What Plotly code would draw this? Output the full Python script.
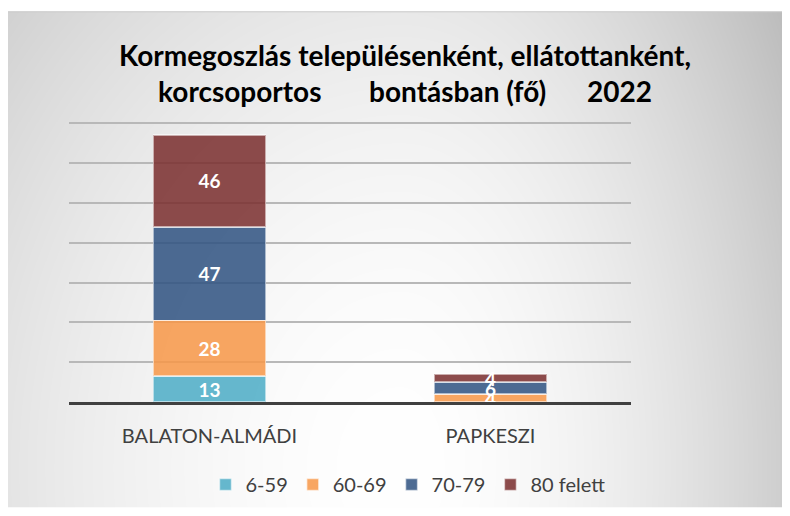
import base64, struct, zlib
import numpy as np
import plotly.graph_objects as go

# ---------------- data ----------------
categories = ["BALATON-ALMÁDI", "PAPKESZI"]
series_names = ["6-59", "60-69", "70-79", "80 felett"]
v_6_59 = [13, 0]
v_60_69 = [28, 4]
v_70_79 = [47, 6]
v_80_felett = [46, 4]
series_values = [v_6_59, v_60_69, v_70_79, v_80_felett]
colors = ["rgba(75,172,198,0.85)", "rgba(247,150,70,0.85)",
          "rgba(46,81,128,0.85)", "rgba(121,45,45,0.85)"]

title_text = ("Kormegoszlás településenként, ellátottanként,<br>"
              "korcsoportos\u00a0\u00a0\u00a0\u00a0\u00a0\u00a0\u00a0bontásban (fő)\u00a0\u00a0\u00a0\u00a0\u00a0\u00a02022")

# page offset (body margin) compensation
OFF = 8
FW, FH = 790 - OFF, 516 - OFF
L = 69 - OFF
R = FW - (631 - OFF)
T = 122 - OFF
B = FH - (404 - OFF)
PW, PH = FW - L - R, FH - T - B

# ---------------- background gradient image ----------------
GX0, GY0 = 0, 11 - OFF
W, H = FW - GX0, FH - GY0 - 6
yy, xx = np.mgrid[0:H, 0:W].astype(float)
px = xx + GX0 + OFF
py = yy + GY0 + OFF
cx, cy = 400.0, 470.0
rx = np.where(px < cx, 620.0, 430.0)
r = np.sqrt(((px - cx) / rx) ** 2 + ((py - cy) / 800.0) ** 2)
val = 255 - 60 * np.clip(r, 0, 1.2) ** 1.8
img = np.clip(val, 0, 255).astype(np.uint8)

def png_bytes(a):
    h, w = a.shape
    raw = b"".join(b"\x00" + a[i].tobytes() for i in range(h))
    def chunk(t, d):
        c = struct.pack(">I", len(d)) + t + d
        return c + struct.pack(">I", zlib.crc32(t + d) & 0xffffffff)
    return (b"\x89PNG\r\n\x1a\n" + chunk(b"IHDR", struct.pack(">IIBBBBB", w, h, 8, 0, 0, 0, 0))
            + chunk(b"IDAT", zlib.compress(raw, 9)) + chunk(b"IEND", b""))

src = "data:image/png;base64," + base64.b64encode(png_bytes(img)).decode()

# ---------------- figure ----------------
fig = go.Figure()
for name, vals, col in zip(series_names, series_values, colors):
    fig.add_trace(go.Bar(
        name=name, x=categories, y=vals,
        marker=dict(color=col, line=dict(color="rgba(255,255,255,0.55)", width=1.5)),
        text=[str(v) if v else "" for v in vals],
        textposition="inside", insidetextanchor="middle", textangle=0,
        textfont=dict(family="Lato", size=19, color="white", weight="bold"),
        constraintext="none",
        hoverinfo="skip",
    ))

def xp(p):  # figure px -> paper x
    return (p - L) / PW

def yp(p):  # figure px (from top) -> paper y
    return (FH - B - p) / PH

fig.update_layout(
    width=FW, height=FH,
    barmode="stack", bargap=0.6,
    margin=dict(l=L, r=R, t=T, b=B),
    paper_bgcolor="white", plot_bgcolor="rgba(0,0,0,0)",
    uniformtext=dict(minsize=19, mode="show"),
    title=dict(text=title_text, x=(405 - OFF) / FW, xanchor="center", y=1 - (66 - OFF) / FH, yanchor="top",
               font=dict(family="Lato", size=28, color="black", weight="bold")),
    legend=dict(orientation="h", x=xp(408 - OFF), xanchor="center", y=yp(487 - OFF), yanchor="middle",
                traceorder="normal", font=dict(family="Lato", size=20, color="#404040"),
                bgcolor="rgba(0,0,0,0)"),
    showlegend=True,
    images=[dict(source=src, xref="paper", yref="paper",
                 x=xp(GX0), y=yp(GY0), sizex=W / PW, sizey=H / PH,
                 xanchor="left", yanchor="top", sizing="stretch", layer="below")],
    shapes=[dict(type="line", xref="paper", yref="paper",
                 x0=xp(GX0), x1=xp(FW), y0=yp(GY0), y1=yp(GY0),
                 line=dict(color="#c8c8c8", width=1), layer="below")],
)
fig.update_xaxes(showline=True, linecolor="#404040", linewidth=3, showgrid=False, ticks="",
                 ticklabelstandoff=14,
                 tickfont=dict(family="Lato", size=20, color="#404040"))
fig.update_yaxes(range=[0, 140.6], tickvals=[20, 40, 60, 80, 100, 120, 140], showticklabels=False,
                 showgrid=True, gridcolor="#b8b8b8", gridwidth=1.5, zeroline=False)

fig.write_html("out.html")
